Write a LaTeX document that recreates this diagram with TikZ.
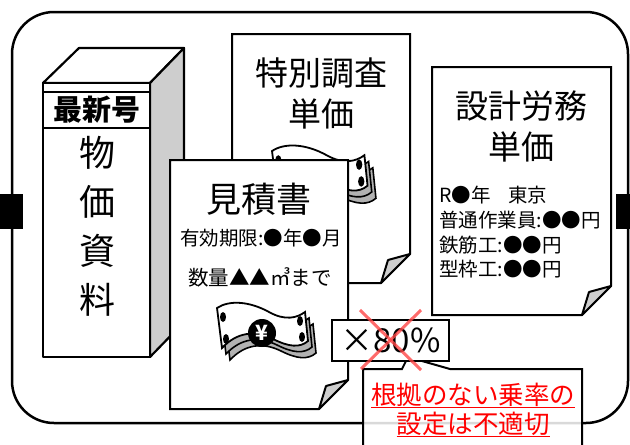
\documentclass[tikz,border=0pt]{standalone}
\usepackage{fontspec}
\setmainfont{Noto Sans CJK JP}
\usepackage{tikz}
\usetikzlibrary{positioning}
\definecolor{sidegray}{RGB}{206, 206, 206}
\definecolor{billgray}{RGB}{178, 178, 178}
\definecolor{warnred}{RGB}{255, 0, 0}
\definecolor{crossred}{RGB}{255, 70, 70}

\tikzset{
    bookline/.style={draw=black, line width=2.2pt, line join=round},
    sheet/.style={draw=black, fill=white, line width=2pt, line join=miter},
    foldcurl/.style={draw=black, fill=sidegray, line width=2pt, line join=round},
    bigtxt/.style={font=\fontsize{33}{41}\selectfont, align=center, inner sep=0pt},
    smalltxt/.style={font=\fontsize{19.5}{25}\selectfont, inner sep=0pt},
}

% sheet with a curled lower right corner: x1, y1, x2, y2
\newcommand{\docsheet}[4]{
    \filldraw[sheet] (#1,#2) -- (#3,#2) -- (#3,#4-29) -- (#3-29,#4) -- (#1,#4) -- cycle;
    \filldraw[foldcurl] (#3,#4-29) -- (#3-22,#4-23) -- (#3-29,#4) -- cycle;
}
% one wavy bank note, local origin at its upper left corner
\newcommand{\billshape}[1]{
    \filldraw[#1] (0,0) .. controls (12,-8) and (32,-7) .. (52,4)
        .. controls (68,13) and (80,10) .. (88,4) -- (91,33)
        .. controls (83,40) and (72,39) .. (56,31)
        .. controls (38,22) and (20,24) .. (5,40) -- cycle;
}
\newcommand{\yenbill}[3][1]{
    \begin{scope}[shift={(#2,#3)}, scale=#1]
        \billshape{draw=black, line width=1.6pt, fill=billgray, shift={(8,12)}}
        \billshape{draw=black, line width=1.6pt, fill=billgray, shift={(4,6)}}
        \billshape{draw=black, line width=1.8pt, fill=white}
        \fill (6,9) ellipse (3 and 5);
        \fill (9,31) ellipse (3 and 5);
        \fill (83,13) ellipse (3 and 5);
        \fill (85,29) ellipse (3 and 5);
        \fill (45,25) circle (14);
        \node[text=white, font=\bfseries\fontsize{21}{21}\selectfont, inner sep=0pt] at (45,25) {¥};
    \end{scope}
}

\begin{document}
\begin{tikzpicture}[x=1pt, y=-1pt]
    \useasboundingbox (0,0) rectangle (630,445);
    \clip (0,0) rectangle (630,445);

    % outer frame with the two side tabs
    \draw[line width=2.5pt, rounded corners=42pt] (12,12) rectangle (628,423);
    \fill (0,194) rectangle (23,229);
    \fill (616,194) rectangle (630,229);

    % price book
    \filldraw[bookline, fill=white]    (43,83) -- (79,48) -- (184,48) -- (150,83) -- cycle;
    \filldraw[bookline, fill=sidegray] (150,83) -- (184,48) -- (184,322) -- (150,357) -- cycle;
    \filldraw[bookline, fill=white]    (43,83) rectangle (150,357);
    \filldraw[bookline, fill=white]    (43,92) rectangle (150,128);
    \node (latest) at (97,110) [font=\bfseries\fontsize{29}{29}\selectfont, inner sep=0pt] {最新号};
    \foreach \ch [count=\i] in {物,価,資,料}
        \node (book\i) at (97,104+49*\i) [font=\fontsize{36}{36}\selectfont, inner sep=0pt] {\ch};

    % special survey sheet
    \docsheet{232}{34}{410}{283}
    \node (special) at (321,93) [bigtxt] {特別調査\\単価};
    \yenbill[1.05]{272}{151}

    % design labour sheet
    \docsheet{432}{67}{611}{315}
    \node (labour) at (521,126) [bigtxt] {設計労務\\単価};
    \node (year)  at (439,195) [smalltxt, anchor=west] {R●年\hspace{0.9em}東京};
    \node (worker) at (439,220) [smalltxt, anchor=west] {普通作業員:●●円};
    \node (rebar) at (439,245) [smalltxt, anchor=west] {鉄筋工:●●円};
    \node (form)  at (439,269) [smalltxt, anchor=west] {型枠工:●●円};

    % quotation sheet
    \docsheet{170}{160}{348}{409}
    \node (quote) at (259,199) [font=\fontsize{35}{35}\selectfont, inner sep=0pt] {見積書};
    \node (valid) at (261,238) [smalltxt] {有効期限:●年●月};
    \node (qty)   at (260,277) [font=\fontsize{20.5}{25}\selectfont, inner sep=0pt] {数量▲▲㎥まで};
    \yenbill{217}{308}

    % callout
    \filldraw[draw=black, fill=white, fill opacity=0.85, line width=2pt, line join=miter]
        (363,460) -- (363,369) -- (402,369) -- (408,357) -- (450,369) -- (582,369) -- (582,460);
    \node (warn) at (473,410) [text=warnred, font=\fontsize{25.5}{29}\selectfont, align=center, inner sep=0pt]
        {\underline{根拠のない乗率の}\\\underline{設定は不適切}};

    % rate box, crossed out
    \node (rate) at (390.5,340.5) [draw, fill=white, line width=2pt, minimum width=117pt, minimum height=41pt,
        inner sep=0pt, font=\fontsize{33}{33}\selectfont] {×80\%};
    \draw[crossred, line width=3pt, opacity=0.8] (360,310) -- (421,370);
    \draw[crossred, line width=3pt, opacity=0.8] (421,310) -- (361,369);
\end{tikzpicture}
\end{document}
